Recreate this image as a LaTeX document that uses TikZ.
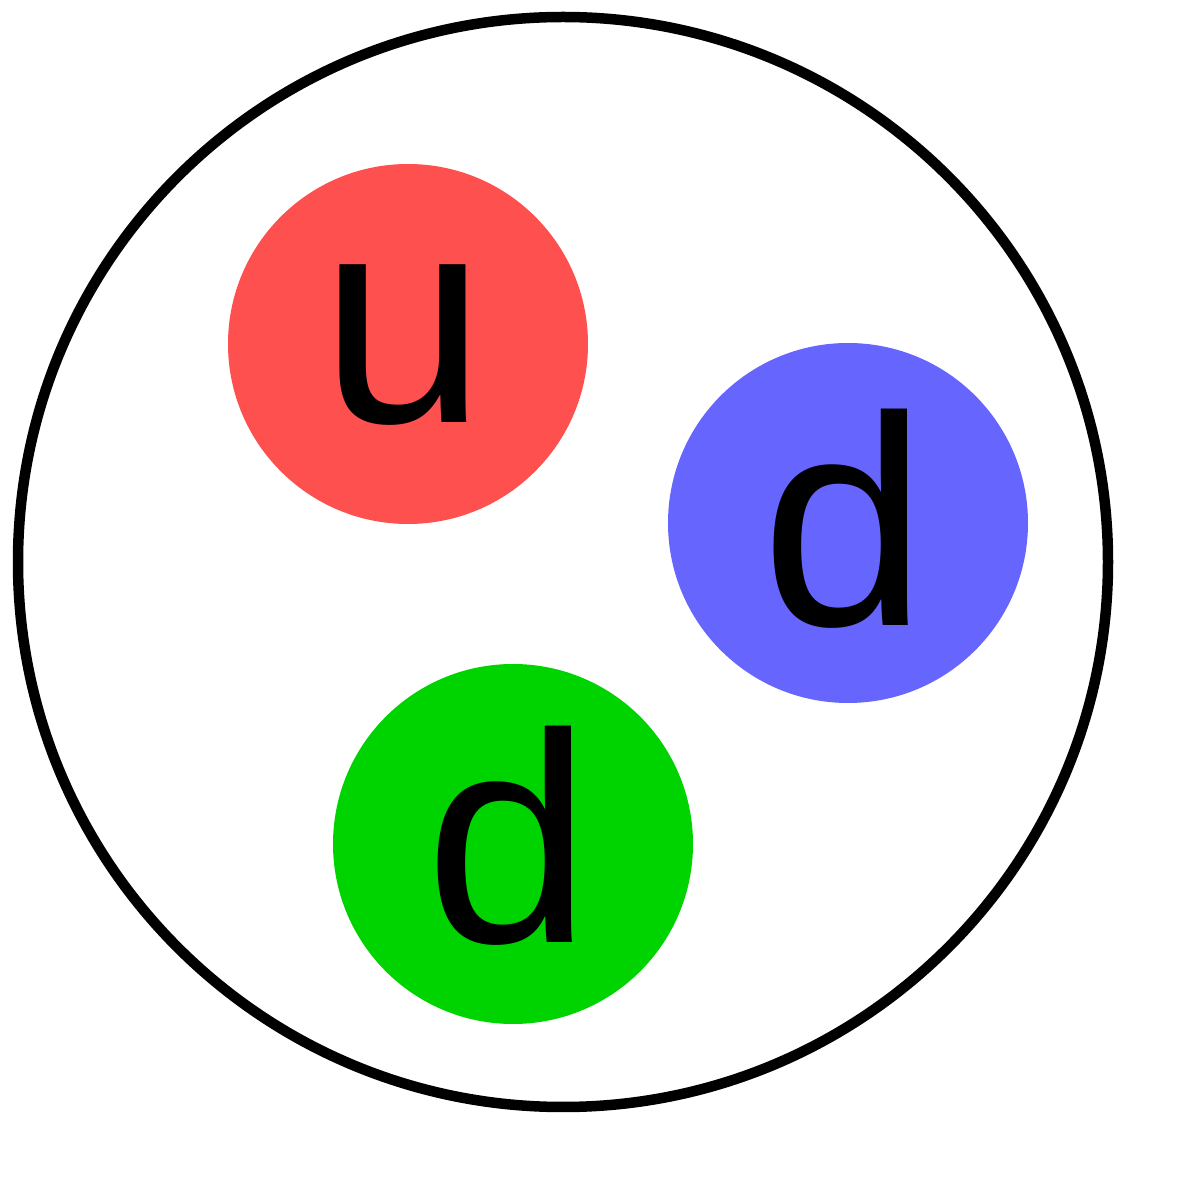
\documentclass[tikz,border=0pt]{standalone}
\usepackage{fontspec}
\setmainfont{Liberation Sans}
\usetikzlibrary{positioning}

\definecolor{quarkred}{RGB}{255,80,80}
\definecolor{quarkblue}{RGB}{102,102,255}
\definecolor{quarkgreen}{RGB}{0,212,0}

\tikzset{
    quark/.style={circle, draw=none, minimum size=3.6cm, inner sep=0pt},
    flavour/.style={anchor=base, inner sep=0pt, font=\fontsize{85}{100}\selectfont}
}

\begin{document}
\begin{tikzpicture}

    \useasboundingbox (0,0) rectangle (12,12);

    % hadron
    \node[circle, draw=black, line width=0.105cm, minimum size=10.9cm, inner sep=0pt] (hadron) at (5.63,6.38) {};

    % 1
    \node[quark, fill=quarkred] (up) at (4.08,8.56) {};
    \node[flavour] (uname) at (4.04,7.77) {u};

    % 2
    \node[quark, fill=quarkblue] (downb) at (8.48,6.77) {};
    \node[flavour] (dbname) at (8.45,5.74) {d};

    % 3
    \node[quark, fill=quarkgreen] (downg) at (5.13,3.56) {};
    \node[flavour] (dgname) at (5.09,2.57) {d};

\end{tikzpicture}
\end{document}
